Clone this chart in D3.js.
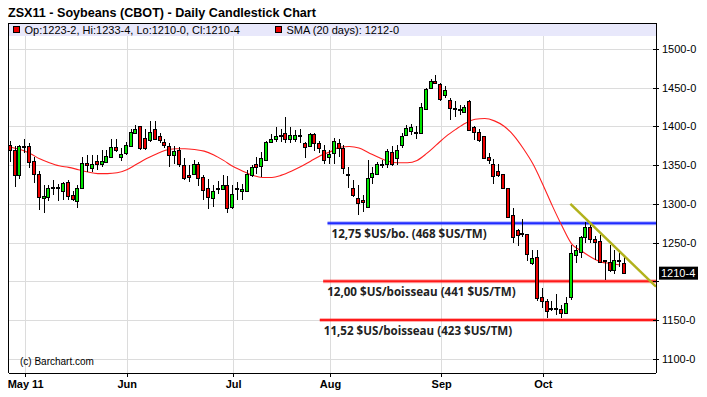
<!DOCTYPE html>
<html>
<head>
<meta charset="utf-8">
<script src="https://cdn.jsdelivr.net/npm/d3@7"></script>
<style>
  body { margin: 0; background: #fff; }
  svg { display: block; }
</style>
</head>
<body>
<svg id="chart" width="707" height="397"></svg>
<script>
// daily candles, Apr 27 -> Oct 26 2011 (index = trading day)
const opens = [1376,1369,1337,1374,1374,1355,1338,1307,1309,1322,1321,1317,1328,1312,1304,1321,1353,1346,1355,1352,
  1354,1361,1373,1361,1366,1374,1392,1400,1385,1382,1396,1388,1380,1375,1363,1370,1350,1337,1338,1351,
  1334,1320,1308,1320,1319,1324,1296,1319,1316,1317,1337,1351,1349,1356,1380,1384,1389,1392,1384,1384,
  1389,1379,1374,1390,1379,1370,1360,1365,1379,1372,1338,1321,1307,1305,1296,1334,1338,1351,1351,1367,
  1359,1376,1389,1394,1393,1392,1422,1450,1459,1455,1441,1434,1422,1421,1418,1433,1399,1393,1387,1361,
  1352,1342,1338,1320,1286,1266,1262,1261,1223,1232,1180,1175,1165,1166,1164,1159,1180,1234,1238,1257,
  1270,1254,1252,1226,1225,1214,1227,1223.25];
const highs = [1381,1374,1376,1383,1379,1361,1342,1324,1324,1331,1326,1328,1331,1316,1324,1361,1363,1363,1363,1369,
  1369,1384,1384,1372,1380,1396,1402,1401,1397,1407,1407,1391,1384,1378,1374,1373,1359,1350,1356,1354,
  1337,1332,1324,1330,1337,1336,1324,1328,1325,1344,1350,1361,1367,1381,1390,1399,1397,1412,1399,1395,
  1397,1380,1391,1391,1381,1376,1369,1385,1384,1376,1347,1331,1324,1311,1356,1348,1354,1356,1371,1374,
  1376,1391,1402,1403,1400,1430,1449,1461,1466,1456,1452,1436,1433,1427,1427,1434,1401,1397,1388,1365,
  1358,1351,1339,1320,1294,1268,1280,1261,1240,1240,1192,1177,1174,1183,1169,1180,1247,1247,1258,1277,
  1273,1258,1260,1227,1247,1240,1236,1233.5];
const lows = [1354,1322,1332,1365,1346,1327,1292,1288,1303,1311,1303,1305,1305,1303,1295,1321,1341,1341,1343,1347,
  1354,1360,1367,1355,1363,1374,1392,1370,1370,1380,1382,1379,1372,1348,1352,1348,1331,1328,1337,1323,
  1305,1293,1296,1313,1318,1288,1293,1305,1305,1317,1335,1339,1335,1356,1379,1380,1380,1379,1379,1380,
  1379,1359,1373,1368,1366,1351,1351,1351,1361,1339,1321,1309,1286,1290,1295,1326,1337,1346,1346,1349,
  1350,1372,1387,1389,1384,1391,1421,1449,1455,1433,1436,1408,1412,1414,1417,1394,1382,1380,1359,1351,
  1325,1335,1320,1282,1250,1245,1257,1226,1221,1174,1165,1153,1162,1157,1153,1158,1176,1223,1230,1250,
  1249,1227,1223,1202,1212,1210,1218,1210];
const closes = [1369,1337,1375,1375,1354,1339,1309,1310,1320,1322,1322,1327,1310,1306,1321,1353,1350,1351,1351,1355,
  1362,1373,1369,1364,1376,1393,1397,1372,1372,1393,1384,1382,1376,1363,1368,1351,1333,1335,1351,1333,
  1318,1309,1316,1321,1324,1294,1313,1320,1319,1338,1347,1347,1359,1380,1384,1388,1388,1383,1389,1389,
  1388,1373,1390,1378,1372,1356,1364,1381,1372,1346,1337,1311,1301,1302,1333,1340,1352,1351,1368,1351,
  1369,1387,1398,1399,1393,1425,1448,1459,1456,1435,1447,1423,1423,1422,1425,1395,1393,1382,1359,1356,
  1336,1337,1321,1283,1257,1260,1262,1235,1230,1179,1175,1162,1165,1165,1159,1172,1236,1240,1257,1270,
  1254,1251,1225,1227,1214,1227,1228,1210.5];

// 20-day SMA, every second session
const smaIdx = d3.range(0, 128, 2);
const smaVals = [1373,1370,1365,1358,1353,1349,1347,1344,1341,1339,1339,1340,1344,1351,1358,1364,
  1369,1371,1371,1370,1368,1363,1356,1348,1342,1337,1334,1334,1337,1342,1348,1355,
  1362,1367,1373,1374,1372,1366,1360,1355,1353,1353,1356,1365,1376,1387,1396,1404,
  1409,1410,1407,1400,1388,1371,1351,1325,1297,1271,1248,1239,1231,1225,1223,1221];

const monthIdx = [3, 24, 46, 66, 89, 110];
const monthLabels = ["May 11", "Jun", "Jul", "Aug", "Sep", "Oct"];
const priceTicks = [1100, 1150, 1200, 1250, 1300, 1350, 1400, 1450, 1500];

// drawn price levels and trend line
const levelPrices = [1275, 1200, 1150];
const levelFrom = [65.5, 64.6, 63.9];
const levelLabels = ["12,75 $US/bo. (468 $US/TM)", "12,00 $US/boisseau (441 $US/TM)", "11,52 $US/boisseau (423 $US/TM)"];
const levelColors = ["#1f2bff", "#ff1a1a", "#ff1a1a"];
const trendIdx = [115.7, 133.4];
const trendPrices = [1300, 1193];

const lastQuote = {op: "1223-2", hi: "1233-4", lo: "1210-0", cl: "1210-4", sma: "1212-0"};

const plot = {left: 8.5, right: 656, top: 23, bottom: 372.5, band: 36};
const svg = d3.select('#chart');

const x = d3.scaleLinear().domain([-0.45, 133.4]).range([plot.left, plot.right]);
const y = d3.scaleLinear().domain([1100, 1500]).range([358.8, 48.8]);

svg.append('defs').append('clipPath').attr('id', 'clip')
  .append('rect')
  .attr('x', plot.left).attr('y', plot.band)
  .attr('width', plot.right - plot.left).attr('height', plot.bottom - plot.band);

svg.append('text')
  .attr('x', 8).attr('y', 17)
  .attr('font-family', 'Liberation Sans, Arial, sans-serif')
  .attr('font-weight', 'bold').attr('font-size', 12.6)
  .text('ZSX11 - Soybeans (CBOT) - Daily Candlestick Chart');

// legend band
svg.append('rect')
  .attr('x', plot.left).attr('y', plot.top)
  .attr('width', plot.right - plot.left).attr('height', plot.band - plot.top)
  .attr('fill', '#e8e8fb');

// grid
const grid = svg.append('g').attr('stroke', '#dcdcdc').attr('shape-rendering', 'crispEdges');
grid.selectAll('line.h').data(priceTicks).join('line')
  .attr('x1', plot.left).attr('x2', plot.right)
  .attr('y1', d => Math.round(y(d)) + 0.5).attr('y2', d => Math.round(y(d)) + 0.5);
grid.selectAll('line.v').data(monthIdx).join('line')
  .attr('x1', d => Math.round(x(d)) + 0.5).attr('x2', d => Math.round(x(d)) + 0.5)
  .attr('y1', plot.band).attr('y2', plot.bottom);

const legend = svg.append('g')
  .attr('font-family', 'Liberation Sans, Arial, sans-serif').attr('font-size', 11);
[[13.5, `Op:${lastQuote.op}, Hi:${lastQuote.hi}, Lo:${lastQuote.lo}, Cl:${lastQuote.cl}`],
 [275.5, `SMA (20 days): ${lastQuote.sma}`]].forEach(([lx, txt]) => {
  legend.append('rect').attr('x', lx).attr('y', 26.5).attr('width', 6).attr('height', 6)
    .attr('fill', '#ee0000').attr('stroke', '#000').attr('shape-rendering', 'crispEdges');
  legend.append('text').attr('x', lx + 11).attr('y', 33.5).text(txt);
});

svg.append('text')
  .attr('x', 20).attr('y', 365)
  .attr('font-family', 'Liberation Sans, Arial, sans-serif').attr('font-size', 10)
  .text('(c) Barchart.com');

const chart = svg.append('g').attr('clip-path', 'url(#clip)');

// levels
levelPrices.forEach((p, k) => {
  const ly = y(p);
  const g = chart.append('g');
  g.append('line')
    .attr('x1', x(levelFrom[k])).attr('x2', plot.right)
    .attr('y1', ly).attr('y2', ly)
    .attr('stroke', levelColors[k]).attr('stroke-opacity', 0.35).attr('stroke-width', 4);
  g.append('line')
    .attr('x1', x(levelFrom[k])).attr('x2', plot.right)
    .attr('y1', ly).attr('y2', ly)
    .attr('stroke', levelColors[k]).attr('stroke-width', 2);
  svg.append('text')
    .attr('x', x(levelFrom[k]) + 4).attr('y', ly + 15)
    .attr('font-family', 'Open Sans, sans-serif').attr('font-weight', 'bold').attr('font-size', 11.6)
    .attr('fill', '#222').text(levelLabels[k]);
});

// sma
chart.append('path')
  .datum(smaIdx.map((d, k) => [d, smaVals[k]]))
  .attr('fill', 'none').attr('stroke', '#ff2020').attr('stroke-width', 1.1)
  .attr('d', d3.line().curve(d3.curveMonotoneX).x(d => x(d[0])).y(d => y(d[1])));

// candles
const candles = chart.append('g').attr('shape-rendering', 'crispEdges');
const bars = candles.selectAll('g').data(d3.range(opens.length)).join('g');
bars.append('line')
  .attr('x1', i => Math.round(x(i)) - 0.5).attr('x2', i => Math.round(x(i)) - 0.5)
  .attr('y1', i => y(highs[i])).attr('y2', i => y(lows[i]))
  .attr('stroke', '#000');
bars.append('rect')
  .attr('x', i => Math.round(x(i)) - 2.5)
  .attr('width', 3)
  .attr('y', i => Math.round(y(Math.max(opens[i], closes[i]))) + 0.5)
  .attr('height', i => Math.max(1, Math.round(y(Math.min(opens[i], closes[i]))) - Math.round(y(Math.max(opens[i], closes[i])))))
  .attr('fill', i => closes[i] > opens[i] ? '#00e400' : (closes[i] < opens[i] ? '#ee0000' : '#000'))
  .attr('stroke', '#000');

// trend line
chart.append('line')
  .attr('x1', x(trendIdx[0])).attr('y1', y(trendPrices[0]))
  .attr('x2', x(trendIdx[1])).attr('y2', y(trendPrices[1]))
  .attr('stroke', '#b2b21c').attr('stroke-width', 2.5);

// frame
svg.append('path')
  .attr('d', `M${plot.left},${plot.bottom}V${plot.top}H${plot.right}`)
  .attr('fill', 'none').attr('stroke', '#000').attr('shape-rendering', 'crispEdges');

// right price axis (the 1200 label sits under the last-price tag)
const last = closes[closes.length - 1];
const yAxis = svg.append('g')
  .attr('transform', `translate(${plot.right},0)`)
  .call(d3.axisRight(y).tickValues(priceTicks).tickFormat(d => d + '-0').tickSize(3).tickPadding(3))
  .attr('font-family', 'Liberation Sans, Arial, sans-serif').attr('font-size', 11);
yAxis.selectAll('.tick line').attr('x1', -3).attr('shape-rendering', 'crispEdges');
yAxis.selectAll('.tick text').filter(d => Math.abs(y(d) - y(last)) < 12).remove();
yAxis.select('.domain').attr('d', `M0.5,${plot.top}V${plot.bottom}`).attr('shape-rendering', 'crispEdges');

// bottom month axis
const xAxis = svg.append('g')
  .attr('transform', `translate(0,${plot.bottom})`)
  .call(d3.axisBottom(x).tickValues(monthIdx).tickFormat((d, k) => monthLabels[k]).tickSize(4).tickPadding(4))
  .attr('font-family', 'Liberation Sans, Arial, sans-serif').attr('font-size', 11).attr('font-weight', 'bold');
xAxis.select('.domain').attr('d', `M${plot.left},0.5H${plot.right}`).attr('shape-rendering', 'crispEdges');
xAxis.selectAll('.tick line').attr('shape-rendering', 'crispEdges');

// last price tag
svg.append('rect')
  .attr('x', 659).attr('y', y(last) - 6.5).attr('width', 39).attr('height', 13).attr('fill', '#000');
svg.append('text')
  .attr('x', 661).attr('y', y(last) + 4)
  .attr('font-family', 'Liberation Sans, Arial, sans-serif').attr('font-size', 11)
  .attr('fill', '#fff').text(lastQuote.cl);
</script>
</body>
</html>
